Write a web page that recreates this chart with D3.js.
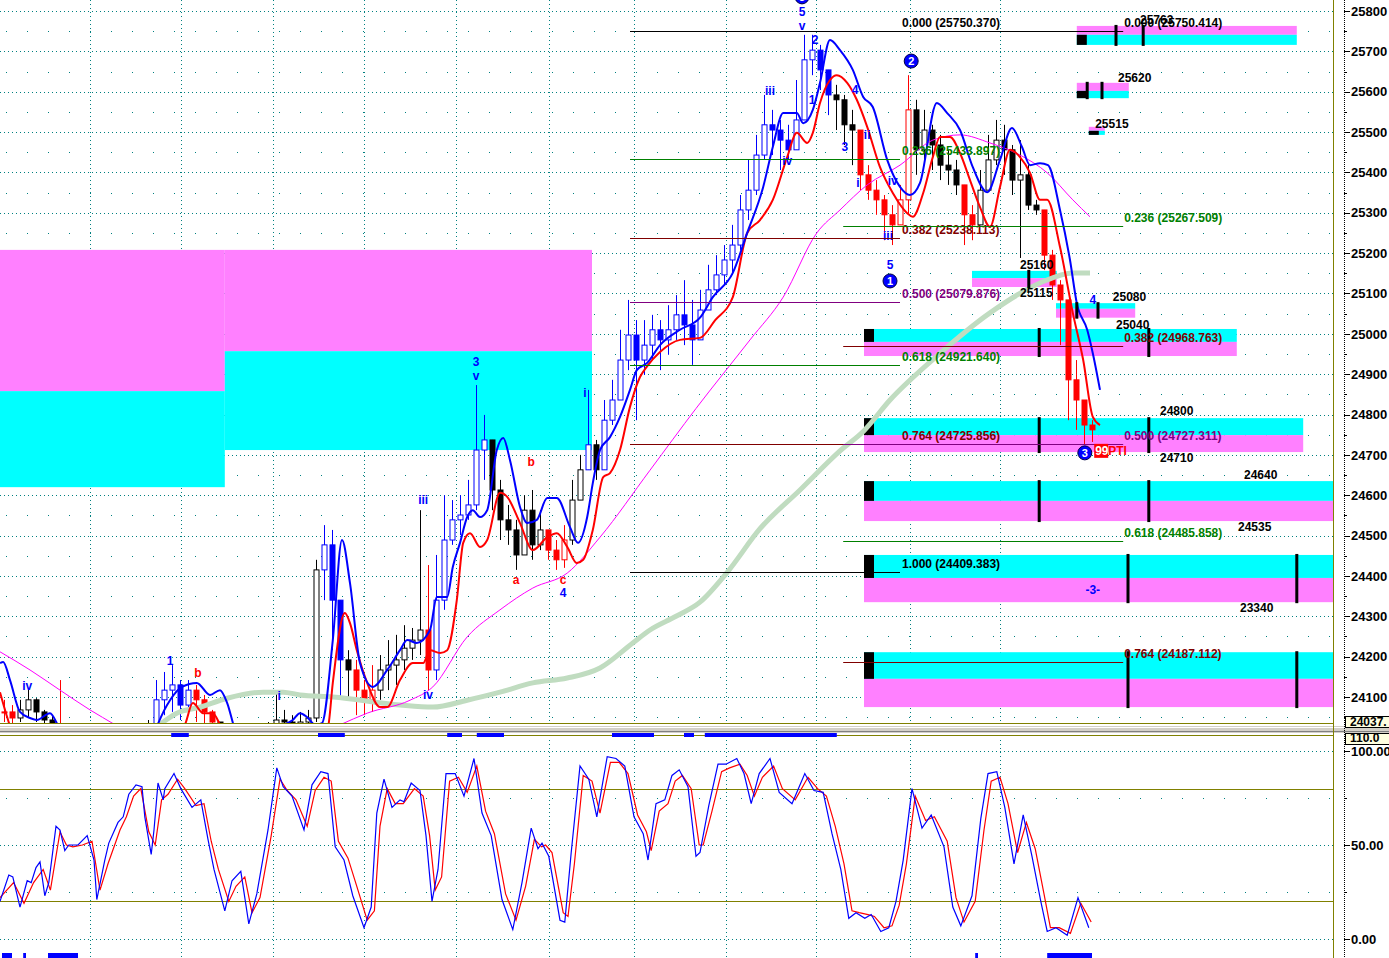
<!DOCTYPE html>
<html><head><meta charset="utf-8">
<script src="https://cdn.jsdelivr.net/npm/d3@7"></script>
<style>
body{margin:0;background:#fff;}
svg{display:block;font-family:'Liberation Sans',Arial,sans-serif;font-weight:bold;}
</style>
</head><body><svg id="c" width="1389" height="958"></svg>
<script>
// ---------------- DATA ----------------
const closes=[24063,24048,24068,24093,24063,24043,24023,24006,23944,23919,23907,23894,23882,23899,23919,23931,23944,23969,24006,24093,24117,24130,24080,24117,24093,24063,24038,23993,23969,23956,23944,23964,23981,24006,24043,24038,24031,24038,24048,24415,24477,24340,24192,24167,24117,24093,24117,24167,24179,24192,24221,24241,24266,24167,24340,24489,24539,24551,24576,24712,24737,24613,24539,24514,24452,24563,24477,24514,24464,24440,24489,24588,24663,24725,24663,24786,24836,24935,24997,24935,24972,25010,24985,25010,25047,25022,24985,25059,25109,25146,25183,25220,25307,25356,25443,25518,25505,25480,25456,25530,25679,25703,25654,25592,25580,25518,25505,25394,25356,25332,25295,25270,25332,25555,25456,25505,25468,25418,25406,25369,25295,25270,25356,25431,25480,25456,25381,25394,25319,25307,25195,25121,25084,24886,24836,24774,24762];
const highs=[24093,24080,24093,24122,24097,24068,24055,24142,23981,23956,23931,23924,23919,23931,23949,23969,23981,24006,24043,24142,24162,24179,24142,24142,24130,24105,24068,24031,24006,23993,23981,23993,24013,24038,24117,24068,24055,24063,24068,24440,24526,24514,24340,24216,24192,24142,24179,24204,24241,24254,24278,24271,24563,24427,24452,24600,24588,24600,24638,24873,24799,24737,24638,24576,24539,24600,24613,24563,24514,24489,24526,24638,24700,24861,24737,24836,24886,25010,25084,25034,25034,25047,25034,25071,25096,25133,25084,25109,25171,25195,25220,25270,25344,25431,25493,25592,25555,25530,25518,25629,25741,25741,25716,25654,25617,25592,25555,25431,25418,25381,25344,25319,25369,25641,25580,25555,25518,25493,25456,25431,25332,25319,25406,25493,25530,25518,25468,25480,25418,25332,25220,25208,25133,25059,24935,24836,24786];
const lows=[24038,24033,24038,24048,24038,24018,23993,23981,23919,23894,23882,23870,23857,23870,23894,23907,23919,23944,23981,24006,24055,24063,24043,24063,24038,24031,24013,23969,23944,23931,23919,23931,23956,23981,24018,24018,24006,24018,24023,24038,24340,24216,24093,24093,24055,24055,24063,24093,24117,24130,24167,24192,24204,24117,24142,24316,24477,24501,24539,24563,24638,24563,24489,24477,24415,24452,24440,24464,24440,24415,24420,24477,24588,24663,24638,24663,24774,24836,24910,24786,24898,24935,24910,24948,24985,24972,24923,24997,25059,25096,25121,25146,25208,25282,25344,25431,25443,25406,25431,25456,25555,25641,25604,25542,25505,25468,25418,25356,25332,25295,25232,25220,25295,25295,25394,25431,25406,25381,25369,25344,25220,25232,25295,25394,25418,25394,25344,25188,25307,25295,25158,25084,24972,24786,24762,24725,24732];

// smoothed envelope lines: [bar time, price]
const bandHigh=[[-0.5,24184],[-0.1,24187],[0.75,24142],[2,24063],[3.25,24048],[4.1,24043],[5.75,24060],[6.6,24035],[7.6,23981],[12,23870],[17,23894],[19.1,24026],[20.75,24092],[22.25,24125],[24.1,24135],[25.75,24105],[27,24117],[27.9,24085],[28.9,24018],[32,23944],[35.1,24031],[36.1,24043],[37,24060],[37.9,24050],[38.9,24031],[39.75,24035],[41.1,24241],[42.25,24489],[43.25,24382],[44.5,24184],[46.1,24125],[47.9,24167],[49.5,24216],[50.4,24241],[51.6,24234],[53.25,24266],[54.1,24348],[55.4,24348],[56.1,24422],[57,24482],[57.9,24546],[58.6,24563],[59.5,24546],[60.4,24563],[61.6,24712],[62.4,24742],[63.25,24687],[64.5,24571],[65.4,24531],[66.6,24539],[67.9,24593],[69.1,24593],[70.75,24521],[71.75,24482],[72.9,24546],[73.6,24630],[74.5,24712],[75.75,24744],[77,24794],[78.25,24861],[79.1,24910],[80.4,24928],[82,24972],[84.5,25010],[87,25040],[88.6,25091],[91.1,25151],[92.9,25250],[94.9,25364],[96.1,25463],[97.4,25547],[99.1,25547],[99.9,25522],[101.1,25555],[102,25622],[103.25,25728],[104.5,25703],[106.1,25654],[107.4,25587],[108.6,25562],[110.4,25431],[112,25364],[113.25,25344],[114.5,25374],[116.6,25572],[117.9,25547],[119.5,25505],[121.1,25413],[122.9,25351],[124.5,25431],[126,25510],[127.25,25463],[128.25,25418],[129.5,25423],[130.5,25418],[132,25307],[133.25,25183],[134.1,25076],[135.4,25010],[136.1,24952],[137,24861]];
const bandLow=[[-0.5,24112],[0.4,24050],[1.4,23993],[5,23940],[15,23900],[22.6,24031],[23.6,24085],[24.9,24060],[26.1,24060],[27,24031],[28.25,23969],[37,23944],[40.5,24026],[41.1,24135],[42.6,24308],[43.25,24283],[44.1,24216],[45.4,24135],[47,24075],[47.9,24075],[49.5,24142],[51.1,24184],[52.4,24184],[53.25,24216],[54.5,24209],[55.4,24216],[56.6,24340],[57.4,24482],[58.25,24506],[59.5,24472],[60.4,24489],[62,24606],[62.9,24596],[64.5,24531],[66.1,24464],[67.9,24496],[69.1,24506],[70.4,24472],[71.6,24432],[72.4,24440],[73.6,24514],[74.9,24645],[75.75,24655],[77,24712],[78.25,24819],[79.5,24893],[80.4,24920],[82,24955],[84.5,24985],[87,24990],[88.9,25034],[91.1,25091],[92.9,25250],[94.5,25282],[96.1,25332],[97.9,25438],[99.1,25498],[100.4,25473],[101.1,25498],[102,25572],[103.25,25629],[104.1,25641],[105.4,25622],[106.6,25580],[107.9,25513],[109.5,25413],[111.1,25349],[112.9,25299],[113.6,25290],[114.9,25349],[116.1,25438],[117,25488],[118.25,25488],[119.5,25448],[120.75,25381],[122,25314],[123.25,25265],[124.5,25364],[125.75,25456],[127,25438],[128.25,25399],[129.5,25332],[130.4,25332],[132,25215],[133.6,25052],[134.9,24935],[136.1,24794],[137,24774]];
const maFast=[[-0.5,24212],[3.25,24167],[7,24117],[10.75,24068],[13.9,24031],[17,23993],[30.75,23931],[42,24031],[45.4,24060],[50.75,24092],[53.6,24125],[57.9,24249],[62,24316],[66.1,24370],[70.4,24407],[74.5,24496],[80.75,24662],[86.5,24815],[93.25,24985],[97.4,25091],[101.6,25250],[104.5,25307],[107.9,25369],[112,25418],[116.1,25480],[119.5,25493],[123.25,25473],[127,25443],[130.4,25399],[133.6,25332],[135.75,25290]];
const maSlow=[[14.5,23944],[19.1,24026],[21.6,24060],[24.5,24075],[27.9,24097],[32.4,24112],[34.9,24112],[37,24105],[41.1,24100],[49.5,24080],[53.6,24075],[57.9,24092],[62,24112],[66.1,24135],[70.4,24147],[74.5,24172],[78.6,24234],[80.75,24266],[84,24300],[87,24335],[90.4,24409],[94.5,24517],[99.5,24613],[104.5,24710],[107.5,24760],[110.75,24836],[116.5,24943],[123.25,25052],[129.5,25126],[133.6,25151],[135.75,25151]];

// stochastic oscillator: [bar time, value]
const stochK=[[-0.5,20],[0.6,34],[1.1,33],[2,17],[2.9,31],[3.4,30],[4,38],[4.5,41],[5.1,23],[5.6,30],[6.5,60],[7,58],[7.6,47],[8.1,50],[9.25,50],[10.4,55],[11.25,42],[11.6,21],[12.6,42],[13.1,51],[14.25,62],[14.9,65],[15.6,77],[16.5,82],[17.25,81],[17.6,65],[18.4,45],[18.75,58],[19.25,83],[19.9,74],[20.1,80],[21.25,88],[22.1,80],[23.5,70],[24.6,74],[25.5,53],[26.25,37],[27.6,15],[28.5,31],[29.6,36],[30.6,8],[31.6,24],[33,58],[34.1,91],[34.9,81],[36,76],[37.5,58],[38.5,82],[39.6,89],[40.5,88],[41.4,49],[42.5,42],[43.6,23],[45,6],[45.9,17],[46.6,67],[47.5,85],[48.5,70],[49.5,74],[50,73],[50.9,83],[52,79],[52.75,55],[53.5,20],[54.25,37],[55.25,88],[56.4,88],[57.5,76],[58.75,96],[59.75,67],[60.9,55],[62.25,21],[63.6,5],[64.75,30],[65.9,59],[66.75,48],[67.25,51],[68.1,44],[69.5,10],[70.1,9],[70.9,46],[72,92],[73.1,85],[74.1,65],[75.4,97],[76.5,96],[77.6,92],[78.75,65],[79.9,56],[80.5,42],[81.5,72],[82.6,74],[83.5,87],[84.4,90],[85.5,81],[86.5,44],[87,46],[88.1,71],[89.25,93],[90.25,93],[91.6,96],[92.5,88],[93.4,72],[94.4,88],[95.75,96],[96.9,78],[98.5,72],[100.1,88],[101.25,79],[102.4,78],[103.5,56],[104.6,37],[105.6,11],[106.5,14],[107.6,11],[108.4,13],[109.6,4],[110.6,6],[111.5,20],[112.4,42],[113.5,80],[114.75,59],[115.9,66],[117.5,49],[118.6,17],[119.6,7],[121,23],[122.1,64],[123,88],[124.1,89],[125.1,70],[126.25,40],[127.4,66],[128.5,44],[129.6,20],[130.4,4],[131.5,6],[132.9,2],[134.25,22],[135.6,6]];
const stochD=[[-0.5,22],[1.2,30],[2.5,19],[3.7,30],[4.9,37],[5.8,26],[7,57],[7.8,50],[8.6,49],[9.8,50],[11,52],[12,26],[13,40],[14.5,58],[15.3,65],[16.2,76],[17.1,80],[18.1,57],[18.9,50],[19.7,74],[20.5,77],[21.7,85],[22.6,80],[24,71],[25,72],[25.9,52],[26.8,37],[28.1,20],[29,28],[30.1,33],[31,14],[32,22],[33.4,55],[34.5,85],[35.4,79],[36.5,74],[37.9,60],[38.9,79],[40,86],[40.9,84],[41.8,52],[43,43],[44.1,28],[45.4,10],[46.3,15],[47,60],[47.9,80],[48.9,72],[49.9,72],[51.3,80],[52.4,76],[53.2,55],[53.9,26],[54.7,33],[55.7,84],[56.8,86],[57.9,78],[59.1,92],[60.2,68],[61.3,56],[62.7,24],[64,10],[65.2,28],[66.3,53],[67.2,49],[67.7,50],[68.5,46],[69.9,14],[70.5,12],[71.3,40],[72.4,87],[73.5,84],[74.5,67],[75.8,94],[76.9,94],[78,88],[79.2,66],[80.3,57],[80.9,47],[81.9,68],[83,72],[83.9,84],[84.8,87],[85.9,80],[86.9,50],[87.4,50],[88.5,68],[89.7,89],[90.7,91],[92,93],[92.9,87],[93.8,76],[94.8,86],[96.2,92],[97.3,80],[98.9,74],[100.5,86],[101.7,80],[102.8,76],[103.9,60],[105,40],[106,15],[106.9,14],[108,13],[108.8,12],[110,6],[111,7],[111.9,18],[112.8,40],[113.9,76],[115.2,63],[116.3,65],[117.9,52],[119,22],[120,9],[121.4,20],[122.5,58],[123.4,84],[124.5,86],[125.5,72],[126.7,46],[127.8,62],[128.9,48],[130,24],[130.8,6],[131.9,6],[133.3,3],[134.6,19],[135.9,9]];
const signalTop=[[20.9,23.1],[39.25,42.6],[55.4,57.25],[59.1,62.5],[76,81.25],[85,86.25],[87.6,104.1]];
const signalBottom=[[-0.25,1],[2.4,2.75],[5.5,9.25],[121.4,121.75],[130.4,136]];

// fibonacci levels
const fibRatios=["0.000","0.236","0.382","0.500","0.618","0.764","1.000"];
const fibLeft=[25750.370,25433.897,25238.113,25079.876,24921.640,24725.856,24409.383];
const fibRight=[25750.414,25267.509,24968.763,24727.311,24485.858,24187.112];
const fibLeftSpan=[78.25,112], fibRightSpan=[104.9,139.9];

// target zones: [t0,t1], top, mid, bottom price
const zoneT0=[134.1,134.1,135.6,121,131.5,107.5,107.5,107.5,107.5,107.5];
const zoneT1=[161.6,140.6,137.6,131.6,141.4,154.1,162.4,170,170,170];
const zoneTop=[25763,25622,25513,25156,25076,25012,24791,24635,24452,24211];
const zoneMid=[25741,25602,25503,25138,25062,24980,24749,24586,24395,24145];
const zoneBot=[25716,25584,25493,25116,25040,24945,24707,24536,24335,24075];
const zoneTicks=[[139,142.4],[135.4,137.25],[],[128.1],[134.1,136.75],[129.4,143.1],[129.4,143.1],[129.4,143.1],[140.5,161.6],[140.5,161.6]];
const zoneLabels=[["25763",142,25778],["25620",139.25,25634],["25515",136.4,25520],["25160",127,25170],["25115",127,25101],["25080",138.6,25091],["25040",139,25022],["24800",144.5,24809],["24710",144.5,24692],["24640",155,24650],["24535",154.25,24521],["23340",154.5,24320]];
// older zones (left)
const oldZoneT=[[-0.5,27.6],[27.6,73.5]];
const oldZoneTop=[25208,25208], oldZoneMid=[24858,24957], oldZoneBot=[24620,24712];

// wave labels: text, time, price, kind
const waveLabels=[["iv",2.9,24127,"b"],["1",20.75,24189,"b"],["b",24.25,24159,"r"],["i",34.4,24103,"b"],["iii",52.4,24588,"b"],["iv",53,24105,"b"],["3",59,24930,"b"],["v",59,24896,"b"],["a",64,24390,"r"],["b",65.9,24682,"r"],["c",69.9,24390,"r"],["4",69.9,24358,"b"],["i",72.6,24853,"b"],["iii",95.75,25602,"b"],["iv",97.9,25428,"b"],["5",99.75,25798,"b"],["v",99.75,25763,"b"],["2",101.4,25728,"b"],["1",101,25580,"b"],["4",106.4,25604,"b"],["3",105.1,25463,"b"],["ii",107.9,25493,"b"],["i",106.75,25374,"b"],["iv",111.1,25379,"b"],["iii",110.5,25242,"b"],["5",110.75,25170,"b"],["4",136.1,25084,"b"],["-3-",136.1,24365,"b"]];
const circleLabels=[["1",110.75,25131],["2",113.4,25676],["3",135.1,24705],["3",99.75,25835]];
const priceTicks=d3.range(24100,25801,100);
const stochTicks=[100,50,0];
const dayBreaks=[10.75,22.1,33.6,45,56.5,68.1,78.75,90.25,101.5,113.25,124.5];

// ---------------- CHART ----------------
const svg=d3.select("#c");
const W=1389,H=958, plotR=1333, axisX=1344;
const x=d3.scaleLinear().domain([0,136]).range([4,1092]);
const y=d3.scaleLinear().domain([24100,25800]).range([697,11]);
const ys=d3.scaleLinear().domain([0,100]).range([939,751]);
const TEAL="#008080", OLIVE="#808000";

const defs=svg.append("defs");
defs.append("clipPath").attr("id","mainClip").append("rect").attr("x",0).attr("y",0).attr("width",plotR).attr("height",723);
defs.append("clipPath").attr("id","stClip").append("rect").attr("x",0).attr("y",737).attr("width",plotR).attr("height",221);

const main=svg.append("g").attr("clip-path","url(#mainClip)");
const st=svg.append("g").attr("clip-path","url(#stClip)");

// grid main
priceTicks.forEach(p=>{
  main.append("line").attr("x1",0).attr("x2",plotR).attr("y1",Math.round(y(p))+0.5).attr("y2",Math.round(y(p))+0.5)
    .attr("stroke",TEAL).attr("stroke-dasharray","1,3");
  main.append("line").attr("x1",6).attr("x2",plotR).attr("y1",Math.round(y(p-50))+0.5).attr("y2",Math.round(y(p-50))+0.5)
    .attr("stroke",TEAL).attr("stroke-dasharray","1,20");
});
dayBreaks.forEach(t=>{
  [main,st].forEach(g=>g.append("line").attr("x1",Math.round(x(t))+0.5).attr("x2",Math.round(x(t))+0.5).attr("y1",0).attr("y2",H)
    .attr("stroke",TEAL).attr("stroke-dasharray","1,3"));
});

// old zones
oldZoneT.forEach((tt,i)=>{
  main.append("rect").attr("x",x(tt[0])).attr("width",x(tt[1])-x(tt[0])).attr("y",y(oldZoneTop[i])).attr("height",y(oldZoneMid[i])-y(oldZoneTop[i])).attr("fill","#ff80ff");
  main.append("rect").attr("x",x(tt[0])).attr("width",x(tt[1])-x(tt[0])).attr("y",y(oldZoneMid[i])).attr("height",y(oldZoneBot[i])-y(oldZoneMid[i])).attr("fill","#00ffff");
});

// target zones
const magentaOnTop=[true,true,true,false,false,false,false,false,false,false];
const hasBlock=[true,true,true,false,false,true,true,true,true,true];
zoneT0.forEach((t0,i)=>{
  const x0=x(t0), x1=Math.min(x(zoneT1[i]),axisX+1);
  const upper=magentaOnTop[i]?"#ff80ff":"#00ffff", lower=magentaOnTop[i]?"#00ffff":"#ff80ff";
  main.append("rect").attr("x",x0).attr("width",x1-x0).attr("y",y(zoneTop[i])).attr("height",y(zoneMid[i])-y(zoneTop[i])).attr("fill",upper);
  main.append("rect").attr("x",x0).attr("width",x1-x0).attr("y",y(zoneMid[i])).attr("height",y(zoneBot[i])-y(zoneMid[i])).attr("fill",lower);
  if(hasBlock[i]){
    const cyTop=magentaOnTop[i]?y(zoneMid[i]):y(zoneTop[i]);
    const cyBot=magentaOnTop[i]?y(zoneBot[i]):y(zoneMid[i]);
    main.append("rect").attr("x",x0).attr("width",10).attr("y",cyTop).attr("height",cyBot-cyTop).attr("fill","#000");
  }
});
svg.append("g").selectAll("rect.zt").data(zoneT0.flatMap((t0,i)=>zoneTicks[i].map(t=>({t,i})))).join("rect")
  .attr("x",d=>x(d.t)-1.5).attr("width",3).attr("y",d=>y(zoneTop[d.i])-1).attr("height",d=>y(zoneBot[d.i])-y(zoneTop[d.i])+2).attr("fill","#000");

// fib lines
const fibColor=r=>({"0.000":"#000","1.000":"#000","0.236":"#008000","0.618":"#008000","0.382":"#800000","0.764":"#800000","0.500":"#800080"}[r]);
const fibG=svg.append("g");
fibLeft.forEach((lv,i)=>{
  const r=fibRatios[i];
  const t1=i===0?139.5:fibLeftSpan[1];
  fibG.append("line").attr("x1",x(fibLeftSpan[0])).attr("x2",x(t1)).attr("y1",Math.round(y(lv))+0.5).attr("y2",Math.round(y(lv))+0.5).attr("stroke",fibColor(r));
  fibG.append("text").attr("x",x(fibLeftSpan[1])+2).attr("y",y(lv)-4).attr("font-size",12).attr("fill",fibColor(r)).text(`${r} (${lv.toFixed(3)})`);
});
fibRight.forEach((lv,i)=>{
  const r=fibRatios[i];
  fibG.append("line").attr("x1",x(fibRightSpan[0])).attr("x2",x(fibRightSpan[1])).attr("y1",Math.round(y(lv))+0.5).attr("y2",Math.round(y(lv))+0.5).attr("stroke",fibColor(r));
});

// candles
const ranges=[[0,1,"r"],[2,6,"k"],[7,7,"r"],[8,18,"k"],[19,23,"b"],[24,26,"r"],[27,39,"k"],[40,42,"b"],[43,43,"k"],[44,46,"r"],[47,52,"k"],[53,53,"r"],[54,60,"b"],[61,67,"k"],[68,70,"r"],[71,72,"k"],[73,73,"b"],[74,74,"k"],[75,103,"b"],[104,106,"k"],[107,113,"r"],[114,119,"k"],[120,121,"r"],[122,129,"k"],[130,136,"r"]];
const cmap={r:"#ff0000",k:"#000000",b:"#0000ff"};
const colorOf=i=>{const r=ranges.find(r=>i>=r[0]&&i<=r[1]);return cmap[r?r[2]:"k"];};
const cg=main.append("g");
closes.forEach((c,i)=>{
  const o=i>0?closes[i-1]:c;
  const hi=Math.max(highs[i],o,c), lo=Math.min(lows[i],o,c);
  const col=colorOf(i), cx=Math.round(x(i))+0.5;
  cg.append("line").attr("x1",cx).attr("x2",cx).attr("y1",y(hi)).attr("y2",y(lo)).attr("stroke",col);
  const yt=y(Math.max(o,c)), yb=y(Math.min(o,c));
  cg.append("rect").attr("x",cx-2.5).attr("width",5).attr("y",yt).attr("height",Math.max(1,yb-yt))
    .attr("fill",c>o?"#fff":col).attr("stroke",col).attr("stroke-width",1);
});

// lines
const lineP=d3.line().x(d=>x(d[0])).y(d=>y(d[1])).curve(d3.curveMonotoneX);
main.append("path").attr("d",lineP(maSlow)).attr("fill","none").attr("stroke","#c0dcc0").attr("stroke-width",5);
main.append("path").attr("d",lineP(maFast)).attr("fill","none").attr("stroke","#ff00ff").attr("stroke-width",1);
main.append("path").attr("d",lineP(bandLow)).attr("fill","none").attr("stroke","#ff0000").attr("stroke-width",2);
main.append("path").attr("d",lineP(bandHigh)).attr("fill","none").attr("stroke","#0000ff").attr("stroke-width",2);

// right fib labels (on top)
fibRight.forEach((lv,i)=>{
  const r=fibRatios[i];
  svg.append("text").attr("x",x(fibRightSpan[1])+1).attr("y",y(lv)-4).attr("font-size",12).attr("fill",fibColor(r)).text(`${r} (${lv.toFixed(3)})`);
});
zoneLabels.forEach(d=>{
  svg.append("text").attr("x",x(d[1])).attr("y",y(d[2])).attr("dy","0.35em").attr("font-size",12).attr("fill","#000").text(d[0]);
});
// wave labels
waveLabels.forEach(d=>{
  main.append("text").attr("x",x(d[1])).attr("y",y(d[2])).attr("dy","0.35em").attr("text-anchor","middle").attr("font-size",12)
    .attr("fill",d[3]==="r"?"#ff0000":"#0000ff").text(d[0]);
});
circleLabels.forEach(d=>{
  const g=main.append("g").attr("transform",`translate(${x(d[1])},${y(d[2])})`);
  g.append("circle").attr("r",7).attr("fill","#0000ff").attr("stroke","#000040").attr("stroke-width",1);
  g.append("text").attr("dy","0.36em").attr("text-anchor","middle").attr("font-size",11).attr("fill","#fff").text(d[0]);
});
// 99PTI marker
const ptiX=x(136.4), ptiY=y(24710);
svg.append("rect").attr("x",ptiX-1).attr("y",ptiY-7).attr("width",14).attr("height",14).attr("fill","#ff0000");
svg.append("text").attr("x",ptiX).attr("y",ptiY).attr("dy","0.36em").attr("font-size",12).attr("fill","#fff").text("99");
svg.append("text").attr("x",ptiX+13).attr("y",ptiY).attr("dy","0.36em").attr("font-size",12).attr("fill","#ff0000").text("PTI");

// panel frames
svg.append("line").attr("x1",0).attr("x2",plotR).attr("y1",723.5).attr("y2",723.5).attr("stroke",OLIVE);
svg.append("rect").attr("x",0).attr("y",726).attr("width",W).attr("height",7).attr("fill","#d4d0c8");
svg.append("line").attr("x1",0).attr("x2",W).attr("y1",727.5).attr("y2",727.5).attr("stroke","#ffffff");
svg.append("line").attr("x1",0).attr("x2",W).attr("y1",731.5).attr("y2",731.5).attr("stroke","#808080");
svg.append("line").attr("x1",0).attr("x2",plotR).attr("y1",735.5).attr("y2",735.5).attr("stroke",OLIVE);
svg.append("line").attr("x1",plotR+0.5).attr("x2",plotR+0.5).attr("y1",0).attr("y2",H).attr("stroke",OLIVE);

// stochastic panel
[100,50,0].forEach(v=>st.append("line").attr("x1",0).attr("x2",plotR).attr("y1",Math.round(ys(v))+0.5).attr("y2",Math.round(ys(v))+0.5).attr("stroke",TEAL).attr("stroke-dasharray","1,3"));
[75,25].forEach(v=>st.append("line").attr("x1",6).attr("x2",plotR).attr("y1",Math.round(ys(v))+0.5).attr("y2",Math.round(ys(v))+0.5).attr("stroke",TEAL).attr("stroke-dasharray","1,20"));
[80,20].forEach(v=>st.append("line").attr("x1",0).attr("x2",plotR).attr("y1",Math.round(ys(v))+0.5).attr("y2",Math.round(ys(v))+0.5).attr("stroke",OLIVE));
const lineS=d3.line().x(d=>x(d[0])).y(d=>ys(d[1]));
st.append("path").attr("d",lineS(stochD)).attr("fill","none").attr("stroke","#ff0000").attr("stroke-width",1.2);
st.append("path").attr("d",lineS(stochK)).attr("fill","none").attr("stroke","#0000ff").attr("stroke-width",1.2);
signalTop.forEach(s=>svg.append("rect").attr("x",x(s[0])).attr("width",x(s[1])-x(s[0])).attr("y",733).attr("height",4).attr("fill","#0000ff"));
signalBottom.forEach(s=>svg.append("rect").attr("x",Math.max(0,x(s[0]))).attr("width",x(s[1])-Math.max(0,x(s[0]))).attr("y",953).attr("height",5).attr("fill","#0000ff"));

// right axis
const ax=svg.append("g");
ax.append("line").attr("x1",axisX+0.5).attr("x2",axisX+0.5).attr("y1",0).attr("y2",H).attr("stroke","#000").attr("stroke-dasharray","1,1");
priceTicks.forEach(p=>{
  ax.append("line").attr("x1",axisX).attr("x2",axisX+6).attr("y1",Math.round(y(p))+0.5).attr("y2",Math.round(y(p))+0.5).attr("stroke","#000");
  ax.append("line").attr("x1",axisX).attr("x2",axisX+3).attr("y1",Math.round(y(p-50))+0.5).attr("y2",Math.round(y(p-50))+0.5).attr("stroke","#000");
  ax.append("text").attr("x",axisX+7).attr("y",y(p)).attr("dy","0.36em").attr("font-size",13).attr("fill","#000").text(p);
});
stochTicks.forEach(v=>{
  ax.append("line").attr("x1",axisX).attr("x2",axisX+6).attr("y1",Math.round(ys(v))+0.5).attr("y2",Math.round(ys(v))+0.5).attr("stroke","#000");
  ax.append("text").attr("x",axisX+7).attr("y",ys(v)).attr("dy","0.36em").attr("font-size",13).attr("fill","#000").text(v.toFixed(2));
});
[75,25].forEach(v=>ax.append("line").attr("x1",axisX).attr("x2",axisX+3).attr("y1",Math.round(ys(v))+0.5).attr("y2",Math.round(ys(v))+0.5).attr("stroke","#000"));
// last value boxes
ax.append("rect").attr("x",axisX+1.5).attr("y",716.5).attr("width",50).attr("height",11).attr("fill","#ffffe0").attr("stroke","#000");
ax.append("text").attr("x",axisX+6).attr("y",722).attr("dy","0.36em").attr("font-size",12).text("24037.");
ax.append("rect").attr("x",axisX+1.5).attr("y",733.5).attr("width",50).attr("height",11).attr("fill","#ffffe0").attr("stroke","#000");
ax.append("text").attr("x",axisX+6).attr("y",738).attr("dy","0.36em").attr("font-size",12).text("110.0");
</script>
</body></html>
